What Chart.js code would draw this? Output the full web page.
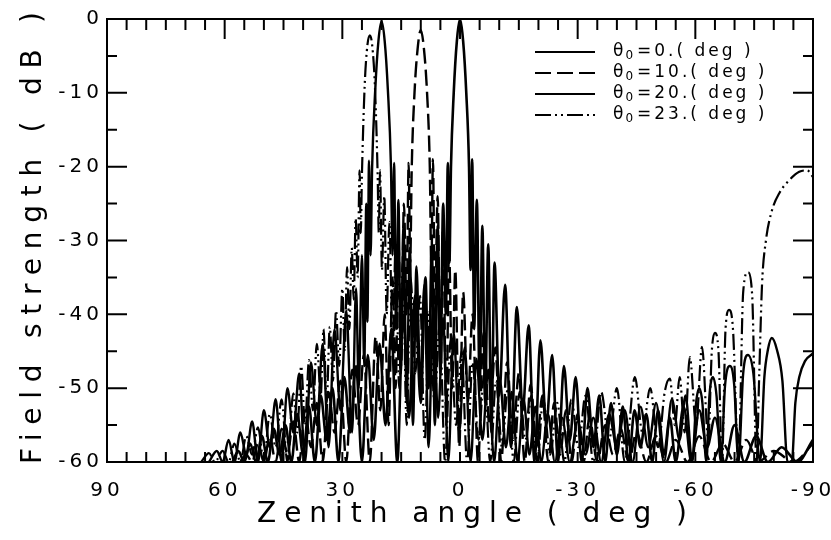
<!DOCTYPE html>
<html>
<head>
<meta charset="utf-8">
<script src="https://cdn.jsdelivr.net/npm/chart.js@4.4.1/dist/chart.umd.min.js"></script>
<style>
  html, body { margin: 0; padding: 0; background: #fff; }
  #wrap { width: 831px; height: 540px; }
</style>
</head>
<body>
<div id="wrap"><canvas id="chart" width="831" height="540"></canvas></div>
<script>
// axis ticks
const xTicks = [90, 60, 30, 0, -30, -60, -90];
const yTicks = [0, -10, -20, -30, -40, -50, -60];
const legendValues = ["0.", "10.", "20.", "23."];

// [zenith angle (deg), field strength (dB)], peaks and nulls
const pattern0 = [[58,-60],[56.5,-58.5],[55,-60],[53.5,-57.5],[52,-60],[50.5,-56.5],[49,-60],[47.5,-55.5],[46,-59],[44.5,-55],[43,-60],[41.5,-53.5],[40,-59],[38.5,-52.5],[37,-60],[35.5,-51],[34,-57],[32.5,-50],[31,-60],[29.5,-48.5],[28,-56],[26.5,-47],[25,-60],[23.5,-45.5],[22,-57],[20.5,-44],[19,-55],[17.5,-42],[16,-60],[14.5,-40],[13,-54],[11.5,-37.5],[10,-52],[8.8,-35],[8,-50],[7.2,-31],[6.4,-55],[5.7,-28],[5,-48],[4.3,-25],[3.6,-40],[3.1,-19.5],[2.7,-33],[2.3,-20],[1.6,-10],[0.8,-3],[0,0],[-0.8,-3],[-1.6,-10],[-2.3,-20],[-2.7,-34],[-3.1,-19],[-3.6,-42],[-4.3,-24.5],[-5,-50],[-5.7,-28],[-6.4,-52],[-7.2,-30.5],[-8,-56],[-8.8,-33],[-10,-51],[-11.5,-36],[-13,-58],[-14.5,-39],[-16,-53],[-17.5,-41.5],[-19,-60],[-20.5,-43.5],[-22,-55],[-23.5,-45.5],[-25,-60],[-26.5,-47],[-28,-57],[-29.5,-48.5],[-31,-60],[-32.5,-50],[-34,-58],[-35.5,-51],[-37,-60],[-38.5,-52],[-40,-59],[-41.5,-52.5],[-43,-60],[-44.5,-53],[-46,-58],[-47.5,-53.5],[-49,-60],[-50.5,-53],[-52,-59],[-53.5,-54],[-55,-60],[-57,-52.5],[-59,-60],[-61,-53],[-63,-58],[-65,-54],[-67.5,-60],[-70,-55],[-72.5,-60],[-75.5,-56.5],[-78.5,-60],[-82,-58],[-86,-60],[-90,-57]];

const pattern10 = [[56,-60],[54.5,-59],[53,-60],[51.5,-57.5],[50,-60],[48.5,-56.5],[47,-60],[45.5,-55.5],[44,-59],[42.5,-54.5],[41,-60],[39.5,-53],[38,-58],[36.5,-52],[35,-60],[33.5,-50.5],[32,-56],[30.5,-49],[29,-60],[27.5,-47.5],[26,-55],[24.5,-45.5],[23,-60],[21.5,-43],[20.3,-53],[19.2,-40],[18.2,-55],[17.2,-35],[16.4,-50],[15.7,-30],[15,-47],[14.3,-25],[13.6,-40],[13.1,-19.5],[12.7,-33],[12.3,-20],[11.6,-10],[10.8,-4],[10,-1.5],[9.2,-4],[8.4,-10],[7.7,-20],[7.3,-34],[6.9,-19],[6.4,-41],[5.7,-24],[5,-48],[4.3,-28],[3.5,-55],[2.8,-31],[2,-50],[1.2,-34],[0.2,-58],[-0.8,-37],[-2,-52],[-3.2,-40],[-4.6,-60],[-6,-42.5],[-7.5,-55],[-9,-44.5],[-10.5,-60],[-12,-46.5],[-13.5,-57],[-15,-48],[-16.5,-60],[-18,-49.5],[-19.5,-58],[-21,-51],[-22.5,-60],[-24,-52],[-25.5,-59],[-27,-53],[-28.5,-60],[-30,-53.5],[-31.5,-60],[-33,-54],[-35,-60],[-37,-55],[-39,-59],[-41,-55.5],[-43,-60],[-45,-56],[-47.5,-60],[-50,-56.5],[-52.5,-60],[-55,-57],[-58,-60],[-61,-56.5],[-64,-60],[-67,-57.5],[-70,-60],[-73,-57],[-76,-60],[-80,-58.5],[-85,-60],[-90,-57.5]];

const pattern20 = [[64,-60],[62,-58.5],[60.5,-60],[59,-57],[57.5,-60],[56,-56],[54.5,-59],[53,-54.5],[51.5,-60],[50,-53],[48.5,-58],[47,-51.5],[45.5,-60],[44,-50],[42.5,-56],[41,-48],[39.5,-60],[38,-46.5],[36.5,-55],[35,-44],[33.5,-58],[32,-42],[30.5,-53],[29,-39.5],[27.5,-56],[26.5,-36.5],[25.8,-50],[25,-32],[24.4,-47],[23.9,-25],[23.6,-41],[23.2,-19.2],[22.8,-32],[22.4,-20],[21.6,-9.5],[20.8,-3],[20,-0.3],[19.2,-3],[18.4,-9.5],[17.6,-20],[17.2,-32],[16.8,-19.5],[16.3,-42],[15.7,-24.5],[15.1,-48],[14.4,-28],[13.6,-52],[12.8,-31],[12,-55],[11.1,-33.5],[10.1,-50],[9.1,-36],[8,-58],[6.8,-38.5],[5.6,-54],[4.3,-40.5],[3,-60],[1.6,-42.5],[0.2,-56],[-1.2,-44.5],[-2.7,-60],[-4.2,-46],[-5.7,-57],[-7.2,-47.5],[-8.7,-60],[-10.2,-49],[-11.7,-58],[-13.2,-50.5],[-14.7,-60],[-16.2,-51.5],[-17.7,-59],[-19.2,-52.5],[-20.7,-60],[-22.4,-53.5],[-24.2,-60],[-26,-54],[-28,-60],[-30,-54.5],[-32,-59],[-34,-54],[-36,-60],[-38,-53.5],[-40,-58],[-42,-53],[-44,-60],[-46,-52.5],[-48,-58],[-50,-52],[-52,-60],[-54,-51.5],[-56,-57],[-57.5,-51],[-59.2,-60],[-60.2,-52],[-61,-50],[-61.8,-52],[-62.8,-60],[-63.6,-51],[-64.5,-48.5],[-65.4,-51],[-66.5,-60],[-67.6,-49.5],[-68.8,-47],[-69.9,-49.5],[-71,-60],[-72.2,-48],[-73.4,-45.5],[-74.8,-48],[-76.5,-60],[-77.6,-48.5],[-78.5,-44.8],[-79.5,-43.2],[-80.8,-44.8],[-82.2,-49],[-83.5,-60],[-84.6,-60],[-85.5,-52],[-86.5,-48.5],[-88,-46.3],[-90,-45.3]];

const pattern23 = [[66,-60],[64,-58.8],[62.5,-60],[60.5,-58.5],[59,-60],[57.5,-57.5],[56,-60],[54.5,-56.5],[53,-59],[51.5,-55.3],[50,-60],[48.5,-53.5],[47,-58],[45.5,-51.5],[44,-60],[42.5,-50.7],[41.5,-56],[40.5,-47],[39.5,-55],[38.5,-46.2],[37.5,-53],[36.5,-44],[35.5,-51],[34.8,-42],[34,-52],[33.2,-41.7],[32.4,-49],[31.6,-39.5],[30.8,-47],[30,-36.5],[29.4,-45],[28.8,-33.6],[28.2,-42],[27.6,-31],[27.1,-38],[26.6,-27],[26.1,-35],[25.6,-20.5],[25.3,-29],[25,-21],[24.3,-9],[23.6,-3.5],[23,-2.2],[22.4,-3.5],[21.7,-9],[21,-21],[20.7,-29],[20.4,-20.5],[19.9,-34],[19.3,-24],[18.7,-40],[18,-27.5],[17.2,-45],[16.4,-30.5],[15.5,-50],[14.6,-33],[13.6,-55],[12.6,-35],[11.4,-48],[10.2,-37.5],[9,-57],[7.8,-39.5],[6.5,-52],[5.2,-41.5],[3.8,-60],[2.4,-43.5],[1,-55],[-0.4,-45],[-1.8,-60],[-3.2,-46.5],[-4.7,-57],[-6.2,-48],[-7.7,-60],[-9.2,-49],[-10.7,-58],[-12.2,-50],[-13.7,-60],[-15.2,-50.5],[-16.7,-57],[-18.2,-51],[-19.7,-60],[-21.2,-51.5],[-23,-59],[-24.8,-52],[-26.6,-60],[-28.4,-51.5],[-30.2,-58],[-32,-51],[-34,-60],[-36,-50.5],[-38,-57],[-40,-50],[-42,-60],[-44.6,-48.5],[-46.5,-56],[-48.5,-50],[-50.5,-58],[-52.2,-50.5],[-53.5,-48.7],[-54.8,-55],[-56,-48.5],[-57.3,-56],[-58.6,-45.8],[-60.2,-55],[-61.7,-44.4],[-63.3,-57],[-64.2,-45],[-65,-42.5],[-65.9,-45],[-66.8,-60],[-67.7,-42],[-68.6,-39.4],[-69.6,-42],[-71,-60],[-72.2,-37],[-73.4,-34.3],[-74.5,-37.5],[-75.6,-60],[-76.3,-48],[-77,-36],[-78,-30],[-79.5,-26],[-81.5,-23.5],[-84,-21.8],[-86.5,-20.7],[-88.5,-20.5],[-90,-21.4]];

const FONT = "'DejaVu Sans', sans-serif";
Chart.defaults.font.family = FONT;
Chart.defaults.color = "#000";

const toPoints = (rows) => rows.map(([x, y]) => ({ x, y }));

const series = (rows, width, dash) => ({
  data: toPoints(rows),
  showLine: true,
  borderColor: "#000",
  borderWidth: width,
  borderDash: dash,
  pointRadius: 0,
  fill: false,
  cubicInterpolationMode: "monotone",
});

// draws text stretched to a given width with letter spacing
function spacedText(ctx, text, x, y, width) {
  ctx.letterSpacing = "0px";
  const plain = ctx.measureText(text).width;
  ctx.letterSpacing = (width - plain) / (text.length - 1) + "px";
  ctx.fillText(text, x, y);
  ctx.letterSpacing = "0px";
}

const spacing = {
  id: "spacing",
  beforeDraw(chart) { chart.ctx.letterSpacing = "4px"; },
  beforeDatasetsDraw(chart) { chart.ctx.letterSpacing = "0px"; },
};

// frame with inward ticks on all four sides
const frame = {
  id: "frame",
  afterDatasetsDraw(chart) {
    const { ctx, chartArea: a, scales: { x, y } } = chart;
    ctx.save();
    ctx.strokeStyle = "#000";
    ctx.lineWidth = 2;
    ctx.setLineDash([]);
    ctx.strokeRect(a.left, a.top, a.right - a.left, a.bottom - a.top);
    ctx.beginPath();
    for (let v = -85; v <= 85; v += 5) {
      const px = x.getPixelForValue(v);
      ctx.moveTo(px, a.top);
      ctx.lineTo(px, a.top + (v % 30 === 0 ? 20 : 11));
      ctx.moveTo(px, a.bottom);
      ctx.lineTo(px, a.bottom - 10);
    }
    for (let v = -55; v <= -5; v += 5) {
      const py = y.getPixelForValue(v);
      const len = v % 10 === 0 ? 20 : 10;
      ctx.moveTo(a.left, py);
      ctx.lineTo(a.left + len, py);
      ctx.moveTo(a.right, py);
      ctx.lineTo(a.right - len, py);
    }
    ctx.stroke();
    ctx.restore();
  },
};

const labels = {
  id: "labels",
  afterDraw(chart) {
    const { ctx } = chart;
    ctx.save();
    ctx.fillStyle = "#000";
    ctx.strokeStyle = "#000";

    // legend
    chart.data.datasets.forEach((ds, i) => {
      const row = 52 + i * 21;
      ctx.lineWidth = 2;
      ctx.setLineDash(ds.borderDash || []);
      ctx.beginPath();
      ctx.moveTo(535, row);
      ctx.lineTo(595, row);
      ctx.stroke();
      ctx.setLineDash([]);
      ctx.textBaseline = "middle";
      ctx.textAlign = "left";
      ctx.letterSpacing = "3px";
      ctx.font = `17px ${FONT}`;
      ctx.fillText("θ", 613, row);
      const tw = ctx.measureText("θ").width;
      ctx.font = `12px ${FONT}`;
      ctx.fillText("0", 613 + tw - 1, row + 4);
      const sw = ctx.measureText("0").width;
      ctx.font = `17px ${FONT}`;
      ctx.fillText("=" + legendValues[i] + "( deg )", 613 + tw + sw, row);
    });

    // axis titles
    ctx.font = `28px ${FONT}`;
    ctx.textBaseline = "alphabetic";
    ctx.textAlign = "left";
    spacedText(ctx, "Zenith angle ( deg )", 257, 522, 430);

    ctx.translate(41, 238);
    ctx.rotate(-Math.PI / 2);
    spacedText(ctx, "Field strength ( dB )", -226, 0, 452);
    ctx.restore();
  },
};

new Chart(document.getElementById("chart"), {
  type: "scatter",
  data: {
    datasets: [
      series(pattern0, 2.6, []),
      series(pattern10, 2.4, [16, 6]),
      series(pattern20, 2.4, []),
      series(pattern23, 2.2, [16, 4, 2, 4, 2, 4]),
    ],
  },
  options: {
    responsive: false,
    animation: false,
    events: [],
    devicePixelRatio: 1,
    layout: { padding: { left: 0, right: 18, top: 19, bottom: 0 } },
    plugins: { legend: { display: false }, tooltip: { enabled: false } },
    scales: {
      x: {
        type: "linear",
        min: -90,
        max: 90,
        reverse: true,
        afterFit: (scale) => {
          scale.height = 78;
          scale.paddingLeft = 0;
          scale.paddingRight = 0;
        },
        grid: { display: false, drawTicks: false },
        border: { display: false },
        ticks: {
          stepSize: 30,
          autoSkip: false,
          maxRotation: 0,
          padding: 17,
          font: { size: 20 },
          callback: (v) => (xTicks.includes(v) ? String(v) : ""),
        },
      },
      y: {
        type: "linear",
        min: -60,
        max: 0,
        afterFit: (scale) => {
          scale.width = 107;
          scale.paddingTop = 0;
          scale.paddingBottom = 0;
        },
        grid: { display: false, drawTicks: false },
        border: { display: false },
        ticks: {
          stepSize: 10,
          padding: 4,
          font: { size: 20 },
          callback: (v) => (yTicks.includes(v) ? String(v) : ""),
        },
      },
    },
  },
  plugins: [spacing, frame, labels],
});
</script>
</body>
</html>
